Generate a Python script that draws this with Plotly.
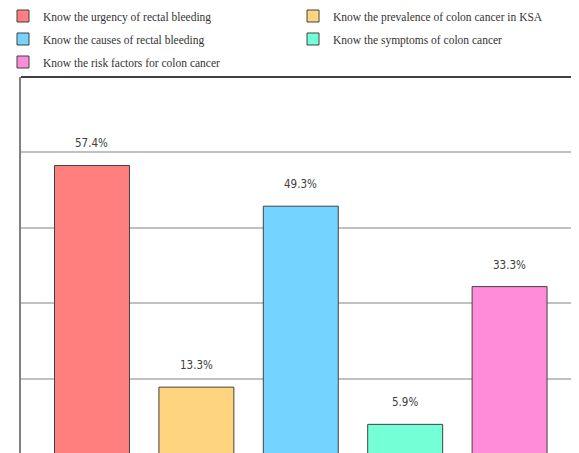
import plotly.graph_objects as go

categories = [
    "Know the urgency of rectal bleeding",
    "Know the prevalence of colon cancer in KSA",
    "Know the causes of rectal bleeding",
    "Know the symptoms of colon cancer",
    "Know the risk factors for colon cancer",
]
values = [57.4, 13.3, 49.3, 5.9, 33.3]
labels = ["57.4%", "13.3%", "49.3%", "5.9%", "33.3%"]
colors = ["#FF7F7F", "#FFD47F", "#75D3FF", "#75FFD6", "#FF8CD9"]

# figure is offset by the page's default 8px body margin; compensate
W, H = 571, 445
ML, MT = 13, 69
PW, PH = W - ML, H - MT
legend_cells = [(-5, 8), (285, 8), (-5, 31), (285, 31), (-5, 54)]  # (x px, row centre px) in figure

fig = go.Figure()
legend_layout = {}
for i, (cat, v, c) in enumerate(zip(categories, values, colors)):
    lname = "legend" if i == 0 else f"legend{i + 1}"
    fig.add_trace(go.Bar(
        x=[i], y=[v], name=cat, width=0.718, legend=lname,
        marker=dict(color=c, line=dict(color="#404040", width=1)),
    ))
    fig.add_annotation(
        x=i, y=v, text=labels[i], showarrow=False, yanchor="bottom", yshift=13,
        font=dict(family="DejaVu Sans Condensed, Liberation Sans, sans-serif",
                  size=11.5, color="#404040"),
    )
    lx, ly = legend_cells[i]
    legend_layout[lname] = dict(
        orientation="h", xref="paper", yref="paper",
        x=(lx - ML) / PW, xanchor="left", y=1 + (MT - ly) / PH, yanchor="middle",
        font=dict(family="Liberation Serif, serif", size=11.5, color="#333333"),
        bgcolor="rgba(0,0,0,0)", itemclick=False, itemdoubleclick=False,
    )

fig.add_shape(type="line", xref="paper", yref="paper", x0=0, x1=1, y0=1, y1=1,
              line=dict(color="#404040", width=2))

fig.update_layout(
    width=W, height=H,
    margin=dict(l=ML, r=0, t=MT, b=0, autoexpand=False),
    paper_bgcolor="white", plot_bgcolor="white",
    showlegend=True,
    xaxis=dict(range=[-0.68, 4.665], showticklabels=False, showgrid=False,
               zeroline=False, showline=False, ticks=""),
    yaxis=dict(range=[0.2, 75], dtick=15, tick0=0, showgrid=True, gridcolor="#c0c0c0",
               gridwidth=2, showticklabels=False, zeroline=False, showline=True,
               linecolor="#808080", linewidth=2, ticks=""),
    **legend_layout,
)

fig.write_html("out.html")
